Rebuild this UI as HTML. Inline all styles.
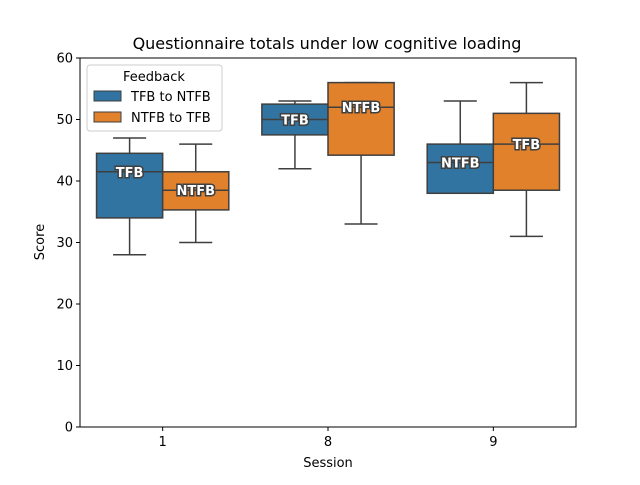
<!DOCTYPE html>
<html><head><meta charset="utf-8"><style>body{margin:0;background:#fff}svg{font-family:"DejaVu Sans","Liberation Sans",sans-serif}</style></head>
<body>
<svg id="c" width="640" height="480" viewBox="0 0 640 480"></svg>
<script>
const categories=["1","8","9"];
const seriesNames=["TFB to NTFB","NTFB to TFB"];
const boxLabels=["TFB","NTFB"];
const yTicks=[0,10,20,30,40,50,60];
const whiskerLow=[[28,42,38],[30,33,31]];
const q1=[[34,47.5,38],[35.3,44.2,38.5]];
const medians=[[41.5,50,43],[38.5,52,46]];
const q3=[[44.5,52.5,46],[41.5,56,51]];
const whiskerHigh=[[47,53,53],[46,56,56]];
const labelOrder=[[0,0,1],[1,1,0]];
const colors=["#3274a1","#e1812c"];
const L=80,R=576,T=58,B=427;
const y=v=>B-(v/60)*(B-T);
const band=(R-L)/categories.length;
const xc=i=>L+band*(i+0.5);
const s=document.getElementById('c');
const NS="http://www.w3.org/2000/svg";
function mk(t,a,p){const e=document.createElementNS(NS,t);for(const k in a)e.setAttribute(k,a[k]);(p||s).appendChild(e);return e;}
const t=mk('text',{x:327,y:49,'font-size':16,'text-anchor':'middle',fill:'#000'});t.textContent="Questionnaire totals under low cognitive loading";


const bw=band*0.4;
for(let si=0;si<2;si++){for(let ci=0;ci<3;ci++){
 const g=mk('g',{});
 
 
 const x0=xc(ci)-band*0.4+si*bw, cx=x0+bw/2;
 mk('line',{x1:cx,x2:cx,y1:y(whiskerLow[si][ci]),y2:y(q1[si][ci]),stroke:'#3f3f3f','stroke-width':1.5},g);
 mk('line',{x1:cx,x2:cx,y1:y(q3[si][ci]),y2:y(whiskerHigh[si][ci]),stroke:'#3f3f3f','stroke-width':1.5},g);
 mk('line',{x1:x0+bw/4,x2:x0+bw*3/4,y1:y(whiskerLow[si][ci]),y2:y(whiskerLow[si][ci]),stroke:'#3f3f3f','stroke-width':1.5},g);
 mk('line',{x1:x0+bw/4,x2:x0+bw*3/4,y1:y(whiskerHigh[si][ci]),y2:y(whiskerHigh[si][ci]),stroke:'#3f3f3f','stroke-width':1.5},g);
 mk('rect',{x:x0,y:y(q3[si][ci]),width:bw,height:y(q1[si][ci])-y(q3[si][ci]),fill:colors[si],stroke:'#3f3f3f','stroke-width':1.5},g);
 mk('line',{x1:x0,x2:x0+bw,y1:y(medians[si][ci]),y2:y(medians[si][ci]),stroke:'#3f3f3f','stroke-width':1.5},g);
 const lt=mk('text',{x:cx,y:y(medians[si][ci])+5,'font-size':13,'font-weight':'bold','text-anchor':'middle',fill:'#fff',stroke:'#3f3f3f','stroke-width':3,'paint-order':'stroke'},g);
 lt.textContent=boxLabels[labelOrder[si][ci]];
}}
const ax=mk('rect',{x:L,y:T,width:R-L,height:B-T,fill:'none',stroke:'#000','stroke-width':1});

yTicks.forEach(v=>{mk('line',{x1:L-4,x2:L,y1:y(v),y2:y(v),stroke:'#000'});const e=mk('text',{x:L-7,y:y(v)+4.5,'font-size':13,'text-anchor':'end'});e.textContent=v;
});
categories.forEach((c,i)=>{mk('line',{x1:xc(i),x2:xc(i),y1:B,y2:B+4,stroke:'#000'});const e=mk('text',{x:xc(i),y:B+19,'font-size':13,'text-anchor':'middle'});e.textContent=c;
});
const xt=mk('text',{x:328,y:467,'font-size':13,'text-anchor':'middle'});xt.textContent="Session";

const yt=mk('text',{x:44,y:242,'font-size':13,'text-anchor':'middle',transform:'rotate(-90 44 242)'});yt.textContent="Score";

const lg=mk('g',{});
mk('rect',{x:87,y:65,width:135,height:66,rx:3,fill:'#fff','fill-opacity':0.8,stroke:'#ccc'},lg);
const lh=mk('text',{x:154,y:81,'font-size':13,'text-anchor':'middle'},lg);lh.textContent="Feedback";
seriesNames.forEach((n,i)=>{mk('rect',{x:94,y:91+i*21,width:27,height:10,fill:colors[i],stroke:'#3f3f3f'},lg);const e=mk('text',{x:131,y:101+i*21,'font-size':13},lg);e.textContent=n;
});
</script>
</body></html>
